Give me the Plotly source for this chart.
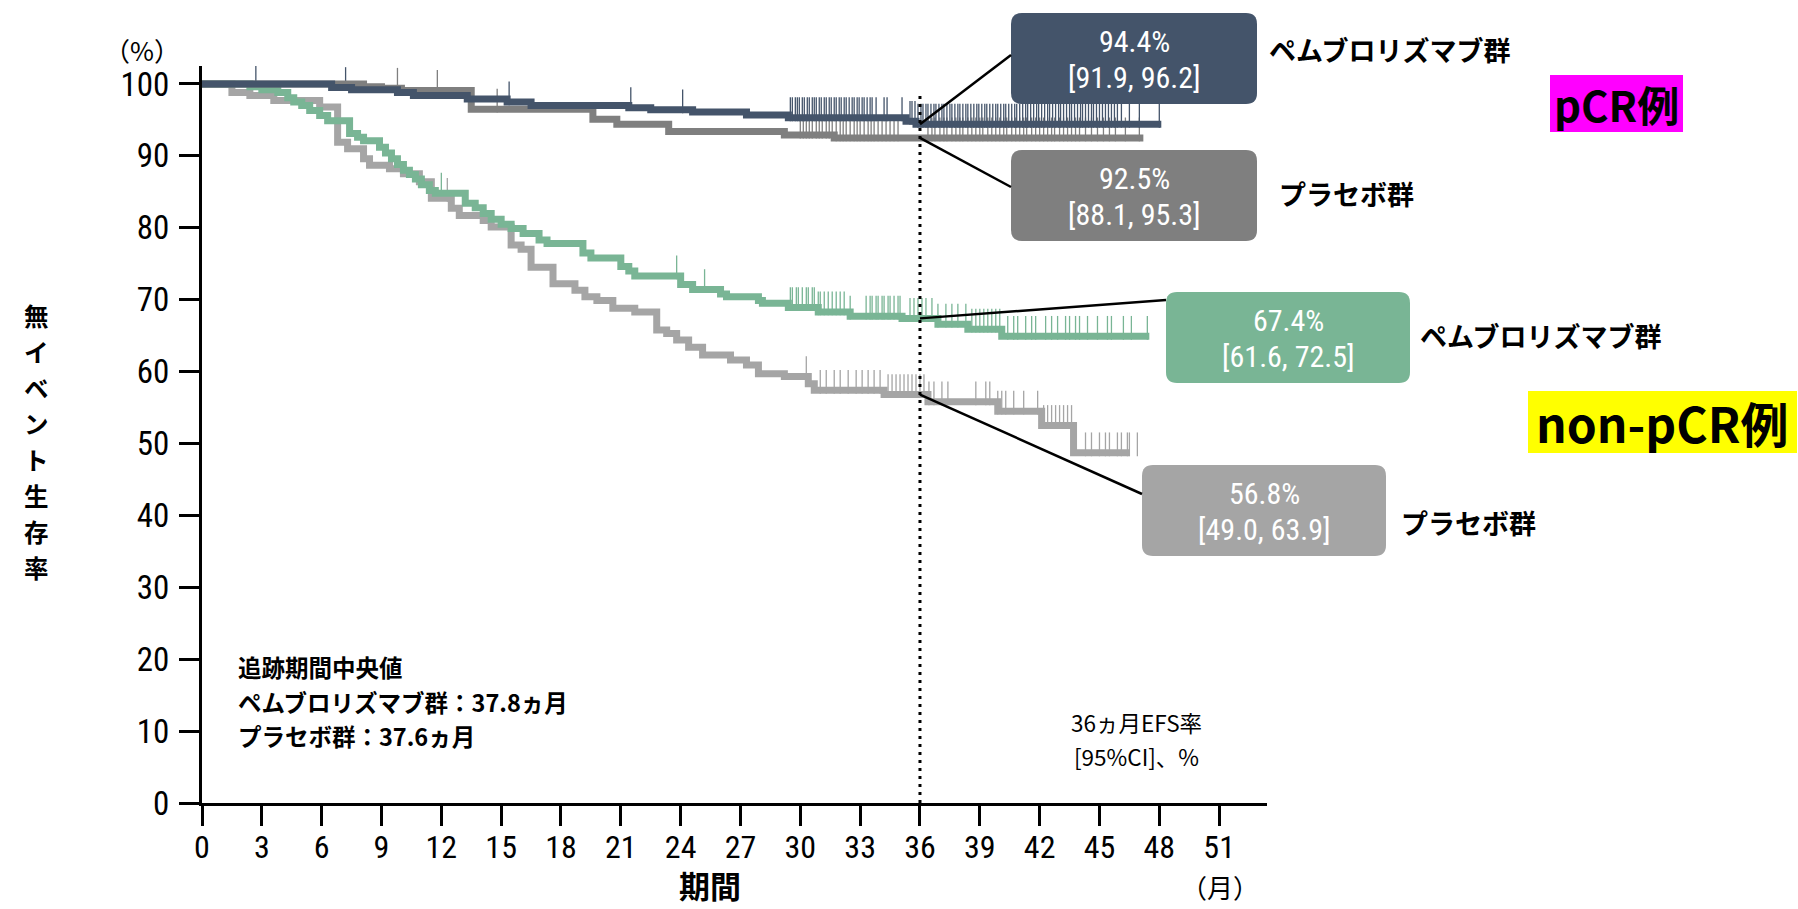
import plotly.graph_objects as go
from bisect import bisect_right

# ---------------- data ----------------
# pCR: pembrolizumab
pem_pcr_t = [0, 6.5, 7.5, 9.8, 10.6, 13.3, 15.3, 16.5, 21.4, 22.5, 24.6, 27.3, 29.4, 35.3, 35.8]
pem_pcr_s = [100, 99.5, 99.2, 98.8, 98.4, 97.9, 97.5, 97.0, 96.7, 96.4, 96.1, 95.7, 95.3, 94.8, 94.4]
pem_pcr_end = 48.1
pem_pcr_cens = [2.7, 7.2, 15.4, 21.5, 24.1,
                29.5, 29.6, 29.75, 29.85, 29.95, 30.1, 30.2, 30.35, 30.45, 30.6, 30.7, 30.8, 30.95,
                31.05, 31.2, 31.3, 31.45, 31.55, 31.7, 31.8, 31.95, 32.05, 32.2, 32.3, 32.45, 32.6,
                32.7, 32.85, 32.95, 33.1, 33.2, 33.35, 33.5, 33.6, 33.8, 34.2, 34.35, 35.1,
                35.5, 35.6, 35.75, 35.9, 36.05, 36.15, 36.3, 36.4, 36.55, 36.7, 36.8, 36.95, 37.1,
                37.2, 37.35, 37.5, 37.6, 37.75, 37.9, 38.0, 38.15, 38.3, 38.4, 38.55, 38.7, 38.85,
                38.95, 39.1, 39.25, 39.35, 39.5, 39.65, 39.8, 39.9, 40.05, 40.2, 40.3, 40.45, 40.6,
                40.75, 40.85, 41.0, 41.15, 41.3, 41.4, 41.55, 41.7, 41.85, 41.95, 42.1, 42.25, 42.4,
                42.5, 42.65, 42.8, 42.95, 43.05, 43.2, 43.35, 43.5, 43.6, 43.75, 43.9, 44.05, 44.15,
                44.3, 44.45, 44.6, 44.7, 44.85, 45.0, 45.15, 45.3, 45.45, 45.6, 45.75, 45.9, 46.1,
                46.5, 47.0, 48.0]

# pCR: placebo
pla_pcr_t = [0, 8.1, 9.0, 10.0, 13.5, 19.6, 20.8, 23.4, 29.2, 31.7]
pla_pcr_s = [100, 99.6, 99.4, 99.1, 96.5, 95.1, 94.4, 93.4, 92.9, 92.5]
pla_pcr_end = 47.2
pla_pcr_cens = [9.8, 11.8, 14.8,
                30.0, 30.15, 30.3, 30.45, 30.6, 30.8, 30.95, 31.1, 31.3, 31.45, 31.6, 31.8, 32.0,
                32.15, 32.3, 32.5, 32.7, 32.85, 33.0, 33.2, 33.4, 33.55, 33.7, 33.9, 34.1, 34.3,
                34.5, 34.7, 34.9,
                36.4, 36.6, 36.75, 37.0, 37.2, 37.35, 37.6, 37.8, 38.0, 38.15, 38.4, 38.6, 38.8,
                39.0, 39.15, 39.4, 39.6, 39.8, 40.0, 40.2, 40.35, 40.6, 40.8, 41.0, 41.2, 41.35,
                41.6, 41.8, 42.0, 42.2, 42.4, 42.6, 42.75, 43.0, 43.2, 43.4, 43.6, 43.8, 44.0,
                44.3, 44.6, 44.9, 45.2, 45.5, 45.8, 46.3, 47.0]

# non-pCR: pembrolizumab
pem_npcr_t = [0, 2.4, 3.0, 3.8, 4.3, 4.6, 5.0, 5.4, 5.9, 6.3, 7.4, 7.8, 8.1, 8.9, 9.2, 9.5,
              9.8, 10.1, 10.4, 10.7, 11.0, 11.4, 11.7, 13.2, 13.7, 14.1, 14.5, 15.0, 15.5, 16.1,
              16.9, 17.3, 19.1, 19.5, 21.0, 21.4, 21.7, 24.0, 24.6, 26.0, 26.3, 27.9, 28.1, 29.4,
              30.9, 32.5, 35.1, 36.9, 38.4, 40.1]
pem_npcr_s = [100, 99.6, 99.2, 98.8, 98.1, 97.5, 97.0, 96.3, 95.6, 94.9, 93.1, 92.6, 92.1, 91.2,
              90.4, 89.6, 88.8, 88.0, 87.4, 86.8, 86.0, 85.2, 84.8, 83.4, 82.8, 82.0, 81.2, 80.5,
              79.9, 79.2, 78.3, 77.8, 76.5, 75.8, 74.6, 74.0, 73.3, 72.1, 71.4, 70.8, 70.4, 69.9,
              69.5, 68.9, 68.3, 67.7, 67.4, 66.6, 65.9, 64.9]
pem_npcr_end = 47.5
pem_npcr_cens = [12.0, 23.8, 25.2,
                 29.5, 29.6, 29.8, 29.9, 30.1, 30.3, 30.4, 30.6, 30.7, 30.9, 31.0,
                 31.2, 31.4, 31.6, 31.8, 32.0, 32.2, 32.5,
                 33.3, 33.5, 33.6, 33.8, 33.9, 34.1, 34.2, 34.4, 34.5, 34.7, 34.9, 35.0,
                 35.5, 35.7, 35.9, 36.1, 36.3, 36.6, 36.9,
                 37.3, 37.6, 37.9, 38.3,
                 38.6, 38.8, 39.0, 39.2, 39.4, 39.6, 39.8, 40.0,
                 40.4, 40.7, 40.9, 41.3, 41.6, 41.8, 42.3, 42.6, 42.9, 43.3, 43.5, 43.8, 44.0,
                 44.4, 44.9, 45.4, 45.6, 46.2, 46.6, 47.4]

# non-pCR: placebo
pla_npcr_t = [0, 1.5, 2.4, 3.6, 5.9, 6.8, 7.3, 8.1, 8.4, 9.4, 10.1, 10.9, 11.5, 12.5, 12.9,
              14.1, 14.5, 15.5, 16.0, 16.5, 17.6, 18.7, 19.2, 19.8, 20.6, 21.7, 22.8, 23.3, 23.8,
              24.4, 25.1, 26.5, 27.3, 27.9, 29.2, 30.4, 30.7, 34.2, 36.4, 39.9, 42.1, 43.7]
pla_npcr_s = [100, 98.8, 98.4, 97.7, 96.8, 91.9, 91.0, 89.6, 88.7, 88.2, 87.5, 86.4, 84.1, 82.7,
              81.7, 81.0, 80.1, 77.6, 77.0, 74.5, 72.2, 71.3, 70.4, 69.9, 68.8, 68.3, 65.8, 65.3,
              64.4, 63.4, 62.3, 61.6, 60.9, 59.7, 59.3, 58.3, 57.4, 56.8, 55.8, 54.5, 52.5, 48.7]
pla_npcr_end = 46.5
pla_npcr_cens = [12.3, 30.3,
                 31.0, 31.3, 31.7, 32.0, 32.4, 32.8, 33.1, 33.4, 33.7, 34.0,
                 34.4, 34.6, 34.8, 35.0, 35.2, 35.4, 35.6, 35.8,
                 36.0, 36.2, 36.45, 36.7, 37.1, 37.4,
                 38.8, 39.3, 39.5, 39.9,
                 40.1, 40.3, 40.7, 41.2, 41.9,
                 42.2, 42.4, 42.6, 42.8, 43.0, 43.2, 43.4, 43.6,
                 44.3, 44.6, 45.0, 45.3, 45.5, 45.9, 46.1, 46.4, 46.5, 46.9]

x_ticks = list(range(0, 52, 3))
y_ticks = list(range(0, 101, 10))
landmark_month = 36

rate_labels = ["94.4%", "92.5%", "67.4%", "56.8%"]
ci_labels = ["[91.9, 96.2]", "[88.1, 95.3]", "[61.6, 72.5]", "[49.0, 63.9]"]
rate_values = [94.4, 92.5, 67.4, 56.8]
group_labels = ["ペムブロリズマブ群", "プラセボ群", "ペムブロリズマブ群", "プラセボ群"]

y_title = "無イベント生存率"
x_title = "期間"
followup_text = ["追跡期間中央値", "ペムブロリズマブ群：37.8ヵ月", "プラセボ群：37.6ヵ月"]
efs_text = ["36ヵ月EFS率", "[95%CI]、%"]

# ---------------- styling / layout ----------------
C_BLUE = "#44546A"
C_GRAY = "#7F7F7F"
C_GREEN = "#79B595"
C_LGRAY = "#A5A5A5"

NARROW = "Liberation Sans Narrow, Arial Narrow, Roboto Condensed, DejaVu Sans Condensed, sans-serif"
JP = "Noto Sans CJK JP, Noto Sans, sans-serif"

W, H = 1798, 909
L_PX, R_PX, T_PX, B_PX = 202, 1267, 66, 803
X_MAX, Y_MAX = 53.4, 102.5
PX_PER_UNIT_Y = (B_PX - T_PX) / Y_MAX


def pxp(x):
    return (x - L_PX) / (R_PX - L_PX)


def pyp(y):
    return (B_PX - y) / (B_PX - T_PX)


def surv_at(ts, ss, t):
    i = bisect_right(ts, t) - 1
    return ss[max(i, 0)]


fig = go.Figure()

series = [
    (pla_npcr_t, pla_npcr_s, pla_npcr_end, pla_npcr_cens, C_LGRAY),
    (pem_npcr_t, pem_npcr_s, pem_npcr_end, pem_npcr_cens, C_GREEN),
    (pla_pcr_t, pla_pcr_s, pla_pcr_end, pla_pcr_cens, C_GRAY),
    (pem_pcr_t, pem_pcr_s, pem_pcr_end, pem_pcr_cens, C_BLUE),
]

TICK_PX = 17
for ts, ss, end, cens, col in series:
    ys = [surv_at(ts, ss, c) + (TICK_PX / 2) / PX_PER_UNIT_Y for c in cens]
    fig.add_trace(go.Scatter(
        x=cens, y=ys, mode="markers",
        marker=dict(symbol="line-ns", size=TICK_PX, color=col,
                    line=dict(color=col, width=1.3)),
        hoverinfo="skip", showlegend=False))

for ts, ss, end, cens, col in series:
    fig.add_trace(go.Scatter(
        x=ts + [end], y=ss + [ss[-1]], mode="lines",
        line=dict(color=col, width=7, shape="hv"),
        hoverinfo="skip", showlegend=False))

shapes = []
annotations = []


def note(x, y, text, size, family=JP, color="black", xanchor="center", bold=False):
    annotations.append(dict(xref="paper", yref="paper", x=pxp(x), y=pyp(y), text=text,
                            showarrow=False, xanchor=xanchor, yanchor="middle",
                            font=dict(family=family, size=size, color=color,
                                      weight="bold" if bold else "normal")))


# landmark dotted line
shapes.append(dict(type="line", xref="x", yref="y", x0=landmark_month, x1=landmark_month,
                   y0=0, y1=98.7, line=dict(color="black", width=3, dash="3px,5px")))

# rounded boxes
boxes = [
    (1011, 13, 1257, 104, C_BLUE, (1011, 55)),
    (1011, 150, 1257, 241, C_GRAY, (1011, 187)),
    (1166, 292, 1410, 383, C_GREEN, (1166, 300)),
    (1142, 465, 1386, 556, C_LGRAY, (1142, 494)),
]
label_pos = [(1267, 49), (1277, 193), (1418, 335), (1399, 522)]
RAD = 11
rx = RAD / (R_PX - L_PX)
ry = RAD / (B_PX - T_PX)
for i, (x0p, y0p, x1p, y1p, col, att) in enumerate(boxes):
    a, b = pxp(x0p), pxp(x1p)
    top, bot = pyp(y0p), pyp(y1p)
    path = (f"M {a+rx},{top} L {b-rx},{top} Q {b},{top} {b},{top-ry} "
            f"L {b},{bot+ry} Q {b},{bot} {b-rx},{bot} L {a+rx},{bot} "
            f"Q {a},{bot} {a},{bot+ry} L {a},{top-ry} Q {a},{top} {a+rx},{top} Z")
    shapes.append(dict(type="path", xref="paper", yref="paper", path=path,
                       fillcolor=col, line=dict(width=0), layer="above"))
    shapes.append(dict(type="line", xref="paper", yref="paper",
                       x0=landmark_month / X_MAX, y0=rate_values[i] / Y_MAX,
                       x1=pxp(att[0]), y1=pyp(att[1]),
                       line=dict(color="black", width=2.5), layer="above"))
    cx = (x0p + x1p) / 2
    cy = (y0p + y1p) / 2
    note(cx, cy - 17, rate_labels[i], 30, family=NARROW, color="white")
    note(cx, cy + 19, ci_labels[i], 30, family=NARROW, color="white")
    lx, ly = label_pos[i]
    note(lx, ly, group_labels[i], 27, xanchor="left", bold=True)

# category tags
shapes.append(dict(type="rect", xref="paper", yref="paper", x0=pxp(1550), x1=pxp(1683),
                   y0=pyp(75), y1=pyp(132), fillcolor="#FF00FF", line=dict(width=0)))
note(1616, 103, "pCR例", 42, bold=True)
shapes.append(dict(type="rect", xref="paper", yref="paper", x0=pxp(1528), x1=pxp(1797),
                   y0=pyp(391), y1=pyp(453), fillcolor="#FFFF00", line=dict(width=0)))
note(1662, 422, "non-pCR例", 48, bold=True)

# axis decorations
note(142, 49, "（%）", 26)
note(1220, 886, "（月）", 26)
note(710, 884, x_title, 31, bold=True)
YT_PITCH = 36.0
for k, ch in enumerate(y_title):
    note(36, 441 + (k - (len(y_title) - 1) / 2) * YT_PITCH, ch, 24.5, bold=True)

for k, line in enumerate(followup_text):
    note(236, 667 + k * 34.5, line, 23.5, xanchor="left", bold=True)
for k, line in enumerate(efs_text):
    note(1136, 722 + k * 34, line, 22.5)

fig.update_layout(
    width=W, height=H,
    margin=dict(l=L_PX, r=W - R_PX, t=T_PX, b=H - B_PX),
    paper_bgcolor="white", plot_bgcolor="white",
    shapes=shapes, annotations=annotations,
    showlegend=False,
)
fig.update_xaxes(range=[0, X_MAX], tickvals=x_ticks, ticktext=[str(v) for v in x_ticks],
                 showline=True, linecolor="black", linewidth=3, ticks="outside", ticklen=20,
                 tickwidth=3, tickcolor="black", showgrid=False, zeroline=False,
                 tickfont=dict(family=NARROW, size=32, color="black"), ticklabelstandoff=-6)
fig.update_yaxes(range=[0, Y_MAX], tickvals=y_ticks, ticktext=[str(v) for v in y_ticks],
                 showline=True, linecolor="black", linewidth=3, ticks="outside", ticklen=20,
                 tickwidth=3, tickcolor="black", showgrid=False, zeroline=False,
                 tickfont=dict(family=NARROW, size=33, color="black"), ticklabelstandoff=3)

fig.write_html("out.html",
               config={"displayModeBar": False},
               post_script="document.body.style.margin='0px';document.body.style.padding='0px';"
                           "document.body.style.overflow='hidden';")
